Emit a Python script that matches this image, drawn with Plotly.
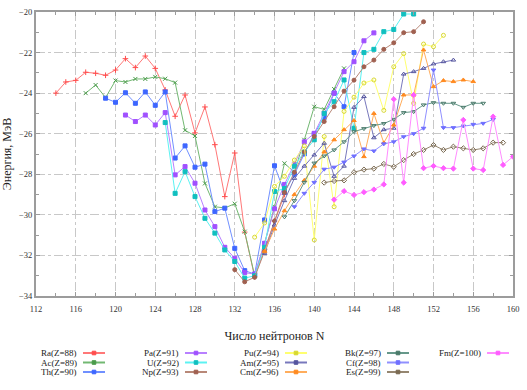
import plotly.graph_objects as go

# ---- data: neutron number start and energies (MeV) ----
names = ["Ra(Z=88)", "Ac(Z=89)", "Th(Z=90)", "Pa(Z=91)", "U(Z=92)", "Np(Z=93)", "Pu(Z=94)",
         "Am(Z=95)", "Cm(Z=96)", "Bk(Z=97)", "Cf(Z=98)", "Es(Z=99)", "Fm(Z=100)"]

ra_n0 = 114
ra_e = [-24.0, -23.45, -23.37, -22.97, -23.02, -23.12, -22.86, -22.3, -22.74, -22.17, -22.78, -23.84,
        -25.14, -24.09, -25.96, -24.68, -26.54, -29.1, -26.95, -30.85, -33.05, -31.7, -30.3, -29.0]
ac_n0 = 117
ac_e = [-24.0, -23.6, -24.22, -23.38, -23.45, -23.3, -23.3, -23.2, -23.29, -23.48, -25.83, -26.11,
        -28.45, -29.6, -29.66, -29.45, -30.83, -33.0, -31.4, -29.6, -27.46, -27.9, -26.3, -24.67,
        -24.8, -23.8, -22.78]
th_n0 = 119
th_e = [-24.25, -24.45, -23.98, -24.5, -23.94, -24.6, -23.94, -27.2, -26.6, -27.65, -27.5, -29.84,
        -29.67, -31.65, -32.75, -32.92, -30.25, -27.58, -28.9, -28.0, -27.0, -26.0, -25.2, -24.0,
        -24.67, -22.0]
pa_n0 = 121
pa_e = [-25.08, -25.4, -25.08, -25.57, -24.96, -28.03, -27.62, -28.44, -29.76, -30.58, -31.6, -32.14,
        -32.85, -32.92, -31.4, -29.7, -28.5, -27.5, -26.4, -25.98, -25.0, -24.0, -22.94, -22.45,
        -21.42, -21.03]
u_n0 = 125
u_e = [-25.45, -28.94, -27.87, -29.1, -30.17, -30.9, -31.73, -32.3, -33.12, -33.0, -31.6, -28.85,
       -28.7, -27.6, -26.9, -26.3, -25.0, -24.42, -23.35, -25.73, -22.0, -21.84, -20.97, -20.86,
       -20.1, -20.1]
np_n0 = 132
np_e = [-32.7, -33.3, -33.08, -31.8, -30.3, -28.9, -27.9, -26.9, -26.14, -25.4, -24.67, -23.9,
        -23.36, -22.7, -22.37, -21.84, -21.52, -21.02, -20.97, -20.48]
pu_n0 = 134
pu_e = [-31.1, -30.4, -28.6, -28.1, -27.3, -26.6, -31.24, -26.14, -29.6, -24.9, -24.2, -23.5,
        -23.35, -24.85, -22.7, -22.05, -24.5, -21.58, -21.71, -21.15]
am_n0 = 135
am_e = [-31.9, -30.5, -29.3, -28.2, -27.6, -27.05, -26.47, -28.1, -27.6, -24.7, -24.17, -26.2,
        -25.8, -25.73, -23.06, -22.94, -22.78, -22.56, -22.45, -22.37]
cm_n0 = 135
cm_e = [-31.8, -30.7, -29.8, -29.0, -28.3, -27.6, -26.9, -26.3, -25.8, -25.35, -27.13, -25.0,
        -26.45, -25.57, -24.09, -24.09, -21.87, -23.68, -23.38, -23.43, -23.35, -23.43]
bk_n0 = 137
bk_e = [-30.1, -29.3, -28.4, -27.45, -27.1, -26.8, -26.4, -25.9, -25.75, -25.6, -25.5, -25.29,
        -24.96, -24.91, -24.58, -24.47, -24.5, -24.5, -24.7, -24.5, -24.5]
cf_n0 = 138
cf_e = [-29.6, -28.94, -28.4, -27.75, -27.65, -27.4, -27.1, -26.75, -26.85, -26.5, -26.4, -26.15,
        -26.0, -25.73, -22.86, -25.7, -25.7, -25.62, -25.54, -25.49, -25.3]
es_n0 = 141
es_e = [-28.41, -28.33, -28.3, -27.9, -27.77, -27.72, -27.49, -27.63, -27.3, -27.0, -26.8, -26.56,
        -26.8, -26.64, -26.72, -26.8, -26.72, -26.44, -26.44]
fm_n0 = 142
fm_e = [-29.25, -28.83, -29.02, -28.88, -28.75, -28.5, -24.3, -28.41, -24.09, -27.7, -27.59, -27.7,
        -27.72, -25.32, -27.72, -27.79, -25.16, -27.54, -27.13]

x_range = [112, 160]
y_range = [-34, -20]
x_major, x_minor = 4, 2
y_major, y_minor = 2, 1

series = [(ra_n0, ra_e), (ac_n0, ac_e), (th_n0, th_e), (pa_n0, pa_e), (u_n0, u_e), (np_n0, np_e),
          (pu_n0, pu_e), (am_n0, am_e), (cm_n0, cm_e), (bk_n0, bk_e), (cf_n0, cf_e), (es_n0, es_e),
          (fm_n0, fm_e)]

# ---- styles ----
colors = ["#ff7878", "#72b872", "#7090ff", "#b880ff", "#5cf2f2", "#b88878", "#ffff70",
          "#7878bc", "#ffad5c", "#66988a", "#9090ff", "#958670", "#ff8cff"]
mcolors = ["#ff4d4d", "#4a9a4a", "#3d66ff", "#a050ff", "#10bfbf", "#a06050", "#d8d830",
           "#55559e", "#ff8a20", "#4a7a6a", "#6f6fff", "#7a6a52", "#ff5cff"]
symbols = ["cross-thin", "x-thin", "square", "square", "square", "circle", "circle-open",
           "triangle-up-open", "triangle-up", "triangle-down-open", "triangle-down", "diamond-open",
           "diamond"]

fig = go.Figure()
for (n0, ev), nm, c, mc, sym in zip(series, names, colors, mcolors, symbols):
    xs = [n0 + i for i in range(len(ev))]
    fig.add_trace(go.Scatter(
        x=xs, y=ev, name=nm, mode="lines+markers",
        line=dict(color=c, width=1),
        marker=dict(symbol=sym, size=4, color=mc, line=dict(color=mc, width=1)),
        showlegend=False))

# ---- manual legend (text right-aligned, sample to the right) ----
X0, X1, Y0, Y1 = 36, 513, 12, 296
W, H = X1 - X0, Y1 - Y0
col_right = [78, 180, 280, 382, 482]
row_y = [353, 362.5, 372]
for i, nm in enumerate(names):
    col, row = i // 3, i % 3
    xr = col_right[col]
    yy = (Y1 - row_y[row]) / H
    fig.add_annotation(x=(xr - X0) / W, y=yy, xref="paper", yref="paper", text=nm,
                       showarrow=False, xanchor="right", yanchor="middle", borderpad=0,
                       font=dict(family="Liberation Serif", size=9, color="#222"))
    fig.add_shape(type="line", xref="paper", yref="paper",
                  x0=(xr + 5 - X0) / W, x1=(xr + 27 - X0) / W, y0=yy, y1=yy,
                  line=dict(color=colors[i], width=2))
    cx = (xr + 16 - X0) / W
    fig.add_shape(type="rect", xref="paper", yref="paper",
                  x0=cx - 1.8 / W, x1=cx + 1.8 / W, y0=yy - 1.8 / H, y1=yy + 1.8 / H,
                  line=dict(color=mcolors[i], width=1), fillcolor=mcolors[i])

axis_common = dict(showline=True, linecolor="#9c9c9c", linewidth=2, mirror="allticks",
                   ticks="inside", ticklen=4, tickcolor="#9c9c9c", tickwidth=1,
                   showgrid=True, gridcolor="#c8c8c8", griddash="dashdot", gridwidth=1,
                   zeroline=False,
                   tickfont=dict(family="Liberation Serif", size=8.5, color="#333"))

fig.update_xaxes(range=x_range, tickmode="linear", tick0=x_range[0], dtick=x_major,
                 minor=dict(dtick=x_minor, ticks="inside", ticklen=3, tickcolor="#9c9c9c",
                            showgrid=False),
                 ticklabelstandoff=4,
                 title=dict(text="Число нейтронов N", standoff=18,
                            font=dict(family="Liberation Serif", size=12, color="#222")),
                 **axis_common)
fig.update_yaxes(range=y_range, tickmode="linear", tick0=y_range[0], dtick=y_major,
                 minor=dict(dtick=y_minor, ticks="inside", ticklen=3, tickcolor="#9c9c9c",
                            showgrid=False),
                 title=dict(text="Энергия, МэВ", standoff=8,
                            font=dict(family="Liberation Serif", size=12, color="#222")),
                 **axis_common)

fig.update_layout(width=527, height=390, margin=dict(l=36, r=14, t=12, b=94, autoexpand=False),
                  plot_bgcolor="white", paper_bgcolor="white", showlegend=False,
                  font=dict(family="Liberation Serif", size=10, color="#333"))

fig.write_html("out.html", config={"displayModeBar": False},
               post_script="document.body.style.margin='0';document.body.style.overflow='hidden';")
